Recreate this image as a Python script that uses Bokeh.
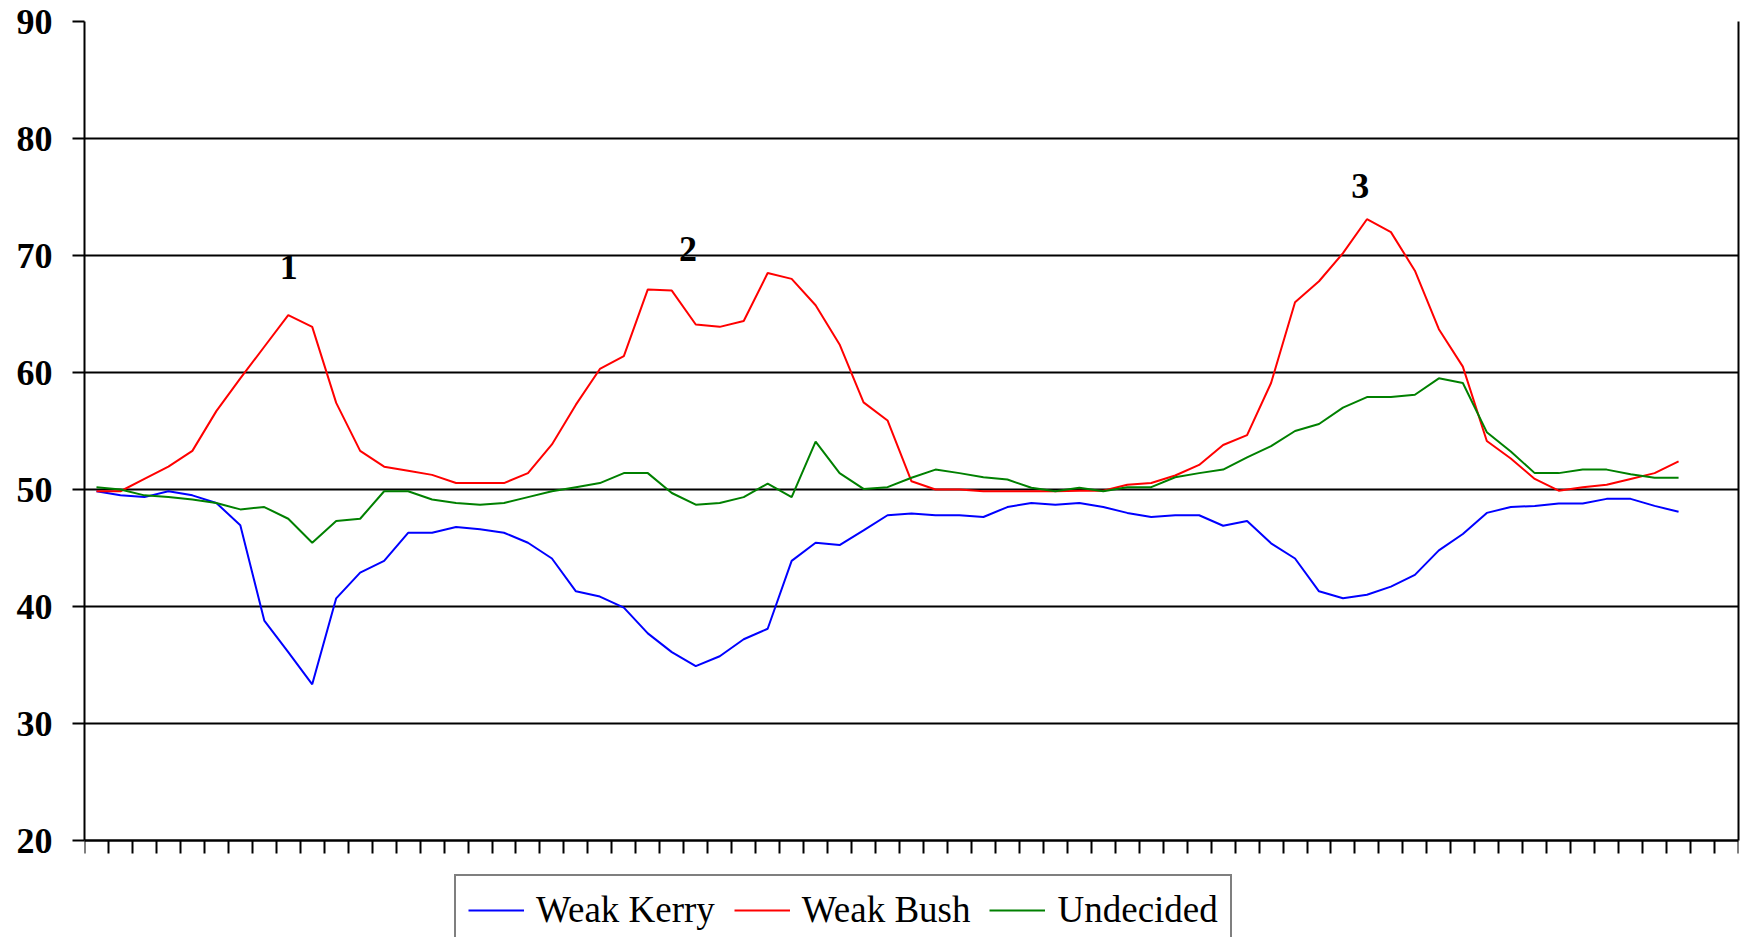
from bokeh.plotting import figure
from bokeh.models import FixedTicker, Legend, LegendItem, Range1d, ColumnDataSource, LinearAxis
from bokeh.core.properties import value
from bokeh.embed import file_html
from bokeh.resources import INLINE

# ---- data ----
weak_kerry = [49.85, 49.5, 49.35, 49.85, 49.5, 48.85, 46.95, 38.8, 36.1, 33.35,
              40.7, 42.9, 43.9, 46.3, 46.3, 46.8, 46.6, 46.3, 45.45, 44.1,
              41.3, 40.85, 39.9, 37.7, 36.1, 34.9, 35.75, 37.2, 38.1, 43.9,
              45.45, 45.25, 46.5, 47.8, 47.95, 47.8, 47.8, 47.65, 48.5, 48.85,
              48.7, 48.85, 48.5, 48.0, 47.65, 47.8, 47.8, 46.9, 47.3, 45.4,
              44.1, 41.3, 40.7, 41.0, 41.7, 42.7, 44.8, 46.2, 48.0, 48.5,
              48.6, 48.8, 48.8, 49.2, 49.2, 48.6, 48.1]
weak_bush = [49.85, 49.85, 50.9, 51.95, 53.3, 56.7, 59.5, 62.2, 64.9, 63.9,
             57.4, 53.3, 51.95, 51.6, 51.25, 50.55, 50.55, 50.55, 51.4, 53.85,
             57.25, 60.3, 61.4, 67.1, 67.0, 64.1, 63.9, 64.4, 68.5, 68.0,
             65.75, 62.4, 57.45, 55.9, 50.7, 50.0, 50.0, 49.85, 49.85, 49.85,
             49.85, 49.9, 49.9, 50.4, 50.55, 51.2, 52.1, 53.8, 54.65, 59.1,
             66.0, 67.8, 70.2, 73.1, 72.0, 68.7, 63.7, 60.5, 54.15, 52.65,
             50.9, 49.9, 50.2, 50.4, 50.9, 51.4, 52.4]
undecided = [50.2, 50.0, 49.5, 49.35, 49.15, 48.85, 48.3, 48.5, 47.5, 45.45,
             47.3, 47.5, 49.85, 49.85, 49.15, 48.85, 48.7, 48.85, 49.35, 49.85,
             50.2, 50.55, 51.4, 51.4, 49.7, 48.7, 48.85, 49.35, 50.5, 49.35,
             54.1, 51.4, 50.05, 50.2, 51.0, 51.7, 51.4, 51.05, 50.85, 50.15,
             49.85, 50.15, 49.85, 50.2, 50.2, 51.05, 51.4, 51.7, 52.75, 53.7,
             55.0, 55.6, 57.0, 57.9, 57.9, 58.1, 59.5, 59.1, 54.9, 53.25,
             51.4, 51.4, 51.7, 51.7, 51.3, 51.0, 51.0]
series_names = ["Weak Kerry", "Weak Bush", "Undecided"]
n_slots = 69
y_ticks = [20, 30, 40, 50, 60, 70, 80, 90]
peak_labels = ["1", "2", "3"]
peak_slot = [8.52, 25.18, 53.22]
peak_value = [69.05, 70.55, 75.9]

colors = ["#0000FF", "#FF0000", "#008000"]
SERIF = "Liberation Serif"

W, H = 1746, 937
TOP, LEFT, RIGHT = 21, 84, 8
AXIS_PX = 819                       # pixel height of the 20..90 span
y_min, y_max = y_ticks[0], y_ticks[-1]
frame_h = H - TOP
y_start = y_max - frame_h * (y_max - y_min) / AXIS_PX   # room below for the legend

x = [i + 0.5 for i in range(len(weak_kerry))]

p = figure(width=W, height=H, output_backend="svg", toolbar_location=None,
           x_range=Range1d(0, n_slots), y_range=Range1d(y_start, y_max),
           min_border_left=LEFT, min_border_right=RIGHT, min_border_top=TOP,
           min_border_bottom=0, background_fill_color="white",
           border_fill_color="white")
p.outline_line_color = None

# y axis (left)
p.yaxis.ticker = FixedTicker(ticks=y_ticks)
p.yaxis.bounds = (y_min, y_max)
p.yaxis.major_tick_out = 12
p.yaxis.major_tick_in = 0
p.yaxis.minor_tick_line_color = None
p.yaxis.axis_line_width = 2
p.yaxis.major_tick_line_width = 2
p.yaxis.major_label_text_font = SERIF
p.yaxis.major_label_text_font_style = "bold"
p.yaxis.major_label_text_font_size = "36px"
p.yaxis.major_label_text_color = "black"
p.yaxis.major_label_standoff = 20

# right border as a bare axis
ra = LinearAxis(ticker=FixedTicker(ticks=[]), bounds=(y_min, y_max), axis_line_width=2,
                major_tick_out=0, major_tick_in=0, minor_tick_out=0, minor_tick_in=0,
                major_label_text_font_size="0px")
p.add_layout(ra, "right")

# x axis drawn at y = 20
xt = list(range(n_slots + 1))
p.xaxis.fixed_location = y_min
p.xaxis.ticker = FixedTicker(ticks=xt)
p.xaxis.major_tick_out = 13
p.xaxis.major_tick_in = 0
p.xaxis.minor_tick_line_color = None
p.xaxis.minor_tick_out = 0
p.xaxis.axis_line_width = 2
p.xaxis.major_tick_line_width = 2
p.xaxis.major_label_overrides = {t: "" for t in xt}
p.xaxis.major_label_text_font_size = "0px"
p.xaxis.major_label_standoff = 0

# grid
p.ygrid.ticker = FixedTicker(ticks=y_ticks)
p.ygrid.grid_line_color = "black"
p.ygrid.grid_line_width = 2
p.xgrid.visible = False

renderers = []
for vals, c in zip([weak_kerry, weak_bush, undecided], colors):
    r = p.line(x, vals, line_color=c, line_width=2)
    renderers.append(r)

src = ColumnDataSource(dict(x=peak_slot, y=peak_value, t=peak_labels))
p.text(x="x", y="y", text="t", source=src, text_font=value(SERIF),
       text_font_style="bold", text_font_size="36px", text_align="center",
       text_baseline="alphabetic", text_color="black")

legend = Legend(items=[LegendItem(label=n, renderers=[r]) for n, r in zip(series_names, renderers)],
                orientation="horizontal", location=(370, -8))
legend.label_text_font = SERIF
legend.label_text_font_size = "37px"
legend.label_text_color = "black"
legend.glyph_width = 56
legend.glyph_height = 30
legend.label_standoff = 12
legend.spacing = 19
legend.padding = 12
legend.margin = 0
legend.border_line_color = "black"
legend.border_line_width = 2
legend.background_fill_color = "white"
legend.background_fill_alpha = 1
p.add_layout(legend, "center")

open("out.html", "w").write(file_html(p, INLINE))
